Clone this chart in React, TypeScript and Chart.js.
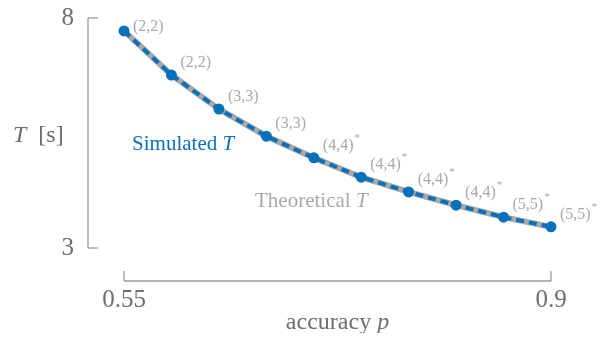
import React, { useEffect, useRef } from "react";
import { Chart, registerables } from "chart.js";

Chart.register(...registerables);

const accuracy = [0.55, 0.5889, 0.6278, 0.6667, 0.7056, 0.7444, 0.7833, 0.8222, 0.8611, 0.9];
const simulatedT = [7.72, 6.76, 6.02, 5.43, 4.96, 4.54, 4.22, 3.93, 3.67, 3.46];
const theoreticalT = [7.72, 6.76, 6.02, 5.43, 4.96, 4.54, 4.22, 3.93, 3.67, 3.46];
const pointLabels = ["(2,2)", "(2,2)", "(3,3)", "(3,3)", "(4,4)", "(4,4)", "(4,4)", "(4,4)", "(5,5)", "(5,5)"];
const starred = [false, false, false, false, true, true, true, true, true, true];
const xTicks = [0.55, 0.9];
const xTickLabels = ["0.55", "0.9"];
const yTicks = [3, 8];
const yTickLabels = ["3", "8"];

const BLUE = "#0b70ba";
const GRAY = "#a9a9a9";
const SERIF = "'Liberation Serif', 'Times New Roman', serif";

type Seg = { t: string; italic?: boolean };

function drawSegs(ctx: CanvasRenderingContext2D, segs: Seg[], x: number, y: number, size: number, color: string, align: "left" | "center") {
  const widths = segs.map((s) => {
    ctx.font = `${s.italic ? "italic " : ""}${size}px ${SERIF}`;
    return ctx.measureText(s.t).width;
  });
  const total = widths.reduce((a, b) => a + b, 0);
  let cx = align === "center" ? x - total / 2 : x;
  ctx.fillStyle = color;
  ctx.textAlign = "left";
  ctx.textBaseline = "middle";
  segs.forEach((s, i) => {
    ctx.font = `${s.italic ? "italic " : ""}${size}px ${SERIF}`;
    ctx.fillText(s.t, cx, y);
    cx += widths[i];
  });
}

const decorPlugin = {
  id: "decor",
  afterDraw(chart: any) {
    const ctx: CanvasRenderingContext2D = chart.ctx;
    const xs = chart.scales.x;
    const ys = chart.scales.y;
    const area = chart.chartArea;
    const axisX = area.left - 36;
    const axisY = area.bottom + 33;
    ctx.save();
    // y axis
    ctx.strokeStyle = "#9a9a9a";
    ctx.lineWidth = 1.3;
    ctx.beginPath();
    ctx.moveTo(axisX, ys.getPixelForValue(yTicks[yTicks.length - 1]));
    ctx.lineTo(axisX, ys.getPixelForValue(yTicks[0]));
    ctx.stroke();
    yTicks.forEach((v, i) => {
      const py = ys.getPixelForValue(v);
      ctx.beginPath();
      ctx.moveTo(axisX, py);
      ctx.lineTo(axisX + 10, py);
      ctx.stroke();
      ctx.fillStyle = "#6e6e6e";
      ctx.font = `25px ${SERIF}`;
      ctx.textAlign = "right";
      ctx.textBaseline = "middle";
      ctx.fillText(yTickLabels[i], axisX - 14, py);
    });
    // x axis
    ctx.beginPath();
    ctx.moveTo(xs.getPixelForValue(xTicks[0]), axisY);
    ctx.lineTo(xs.getPixelForValue(xTicks[xTicks.length - 1]), axisY);
    ctx.stroke();
    xTicks.forEach((v, i) => {
      const px = xs.getPixelForValue(v);
      ctx.beginPath();
      ctx.moveTo(px, axisY);
      ctx.lineTo(px, axisY - 10);
      ctx.stroke();
      ctx.fillStyle = "#6e6e6e";
      ctx.font = `25px ${SERIF}`;
      ctx.textAlign = "center";
      ctx.textBaseline = "middle";
      ctx.fillText(xTickLabels[i], px, axisY + 19);
    });
    // axis titles
    drawSegs(ctx, [{ t: "accuracy " }, { t: "p", italic: true }], (area.left + area.right) / 2, axisY + 42, 24, "#6e6e6e", "center");
    drawSegs(ctx, [{ t: "T", italic: true }, { t: "  [s]" }], 5, ys.getPixelForValue(5.45), 24, "#6e6e6e", "left");
    // series annotations
    drawSegs(ctx, [{ t: "Simulated " }, { t: "T", italic: true }], xs.getPixelForValue(0.5566), ys.getPixelForValue(5.24), 21, BLUE, "left");
    drawSegs(ctx, [{ t: "Theoretical " }, { t: "T", italic: true }], xs.getPixelForValue(0.6574), ys.getPixelForValue(4.01), 21, GRAY, "left");
    // point labels
    const meta = chart.getDatasetMeta(0);
    meta.data.forEach((pt: any, i: number) => {
      const lx = pt.x + 9;
      const ly = Math.max(pt.y - 12, area.top + 9);
      ctx.font = `16px ${SERIF}`;
      ctx.fillStyle = "#a8a8a8";
      ctx.textAlign = "left";
      ctx.textBaseline = "middle";
      ctx.fillText(pointLabels[i], lx, ly);
      if (starred[i]) {
        const w = ctx.measureText(pointLabels[i]).width;
        ctx.font = `11px ${SERIF}`;
        ctx.fillText("*", lx + w + 1, ly - 8);
      }
    });
    ctx.restore();
  },
};

export default function App() {
  const ref = useRef<HTMLCanvasElement | null>(null);
  useEffect(() => {
    if (!ref.current) return;
    const chart = new Chart(ref.current, {
      type: "line",
      data: {
        datasets: [
          {
            label: "Simulated T",
            data: accuracy.map((x, i) => ({ x, y: simulatedT[i] })),
            borderColor: BLUE,
            backgroundColor: BLUE,
            borderWidth: 4,
            borderDash: [8, 5],
            pointRadius: 5.5,
            pointBackgroundColor: BLUE,
            pointBorderWidth: 0,
            tension: 0,
            order: 0,
            clip: false,
          },
          {
            label: "Theoretical T",
            data: accuracy.map((x, i) => ({ x, y: theoreticalT[i] })),
            borderColor: GRAY,
            backgroundColor: GRAY,
            borderWidth: 6,
            pointRadius: 0,
            tension: 0,
            order: 1,
            clip: false,
          },
        ],
      },
      options: {
        animation: false,
        responsive: false,
        maintainAspectRatio: false,
        layout: { padding: { left: 116, right: 54, top: 10, bottom: 85 } },
        plugins: { legend: { display: false }, tooltip: { enabled: false } },
        scales: {
          x: { type: "linear", min: 0.55, max: 0.9, display: false },
          y: { type: "linear", min: 3, max: 8, display: false },
        },
      },
      plugins: [decorPlugin],
    });
    return () => chart.destroy();
  }, []);
  return (
    <div style={{ width: 597, height: 325 }}>
      <canvas ref={ref} width={597} height={325} style={{ display: "block" }} />
    </div>
  );
}
